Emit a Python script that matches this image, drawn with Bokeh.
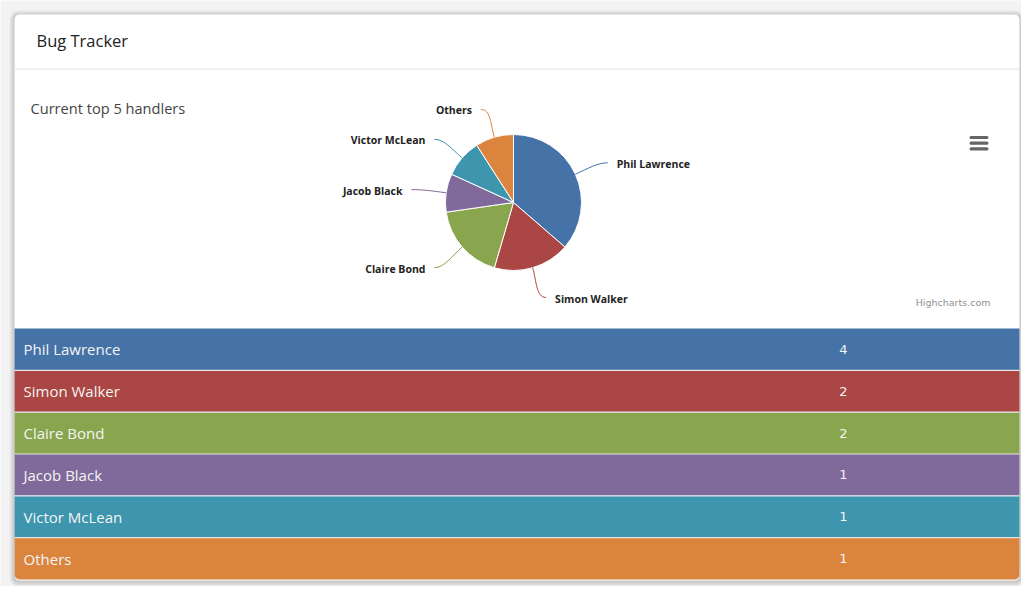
import math
from bokeh.plotting import figure
from bokeh.models import Range1d
from bokeh.core.properties import value
from bokeh.embed import file_html
from bokeh.resources import INLINE

# ---- data ----
names = ["Phil Lawrence", "Simon Walker", "Claire Bond", "Jacob Black", "Victor McLean", "Others"]
counts = [4, 2, 2, 1, 1, 1]
colors = ["#4572A7", "#AA4643", "#89A54E", "#80699B", "#3D96AE", "#DB843D"]
card_title = "Bug Tracker"
subtitle = "Current top 5 handlers"
credit = "Highcharts.com"

W, H = 1021, 586
p = figure(width=W, height=H, x_range=Range1d(8, 8 + W), y_range=Range1d(8, 8 + H),
           output_backend="svg", toolbar_location=None,
           x_axis_location=None, y_axis_location=None, min_border=0,
           outline_line_color=None, background_fill_color="#f3f3f3",
           border_fill_color="#f3f3f3")
p.grid.visible = False


def Y(s):
    return 602 - s


UI = value("Open Sans")

# ---- card with shadow ----
L, R, T, B = 22, 1027, 22, 588
for i in range(1, 6):
    p.quad(left=L - i, right=R + i, top=Y(T - i + 1), bottom=Y(B + i + 1),
           fill_color="black", fill_alpha=0.035, line_color=None, border_radius=4 + i)
p.quad(left=L, right=R, top=Y(T), bottom=Y(B), fill_color="white", line_color=None, border_radius=5)

p.text(x=[44], y=[Y(48)], text=[card_title], text_font=UI, text_font_size="16.5px",
       text_color="#222222", text_baseline="middle")
p.segment(x0=[L], x1=[R], y0=[Y(76.5)], y1=[Y(76.5)], line_color="#e2e2e2", line_width=1)
p.text(x=[38], y=[Y(115)], text=[subtitle], text_font=UI, text_font_size="14.6px",
       text_color="#444444", text_baseline="middle")

# ---- pie ----
cx, cy, r = 521, Y(210), 68
total = sum(counts)
starts, ends, mids = [], [], []
cum = 0
for c in counts:
    a0 = math.pi / 2 - 2 * math.pi * cum / total
    cum += c
    a1 = math.pi / 2 - 2 * math.pi * cum / total
    starts.append(a0)
    ends.append(a1)
    mids.append((a0 + a1) / 2)

p.wedge(x=cx, y=cy, radius=r, start_angle=starts, end_angle=ends, direction="clock",
        fill_color=colors, line_color="white", line_width=1)

for name, a, col in zip(names, mids, colors):
    ca, sa = math.cos(a), math.sin(a)
    ex, ey = cx + r * ca, cy + r * sa
    lx, ly = cx + (r + 30) * ca, cy + (r + 30) * sa
    sgn = 1 if ca >= 0 else -1
    endx, endy = lx + 5 * sgn, ly - 1
    p.bezier(x0=[ex], y0=[ey], x1=[endx], y1=[endy],
             cx0=[cx + (r + 14) * ca], cy0=[cy + (r + 14) * sa],
             cx1=[endx - 10 * sgn], cy1=[endy],
             line_color=col, line_width=1)
    p.text(x=[lx + 14 * sgn], y=[ly - 2], text=[name], text_font=UI,
           text_font_size="10.5px", text_font_style="bold", text_color="#222222",
           text_baseline="middle", text_align="left" if sgn > 0 else "right")

# menu icon
for yy in [145, 150.7, 156.4]:
    p.quad(left=977, right=996, top=Y(yy - 1.6), bottom=Y(yy + 1.6),
           fill_color="#666666", line_color=None, border_radius=2)

p.text(x=[998], y=[Y(310)], text=[credit], text_font=value("DejaVu Sans"),
       text_font_size="9.5px", text_color="#909090", text_baseline="middle", text_align="right")

# ---- table ----
top0 = 336
rh = (B - 1 - top0) / len(names)
for i, (name, c, col) in enumerate(zip(names, counts, colors)):
    t = top0 + i * rh
    b = t + rh
    br = (0, 0, 5, 5) if i == len(names) - 1 else 0
    p.quad(left=L, right=R, top=Y(t), bottom=Y(b), fill_color=col, line_color=None,
           border_radius=br)
    if i > 0:
        p.segment(x0=[L], x1=[R], y0=[Y(t)], y1=[Y(t)], line_color="#e6e6e6", line_width=1.2)
    p.text(x=[31], y=[Y(t + rh / 2)], text=[name], text_font=UI, text_font_size="15px",
           text_color="#f4f4f4", text_baseline="middle")
    p.text(x=[851], y=[Y(t + rh / 2)], text=[str(c)], text_font=value("DejaVu Sans"),
           text_font_size="13px", text_color="#f4f4f4", text_baseline="middle", text_align="center")

open("out.html", "w").write(file_html(p, INLINE))
